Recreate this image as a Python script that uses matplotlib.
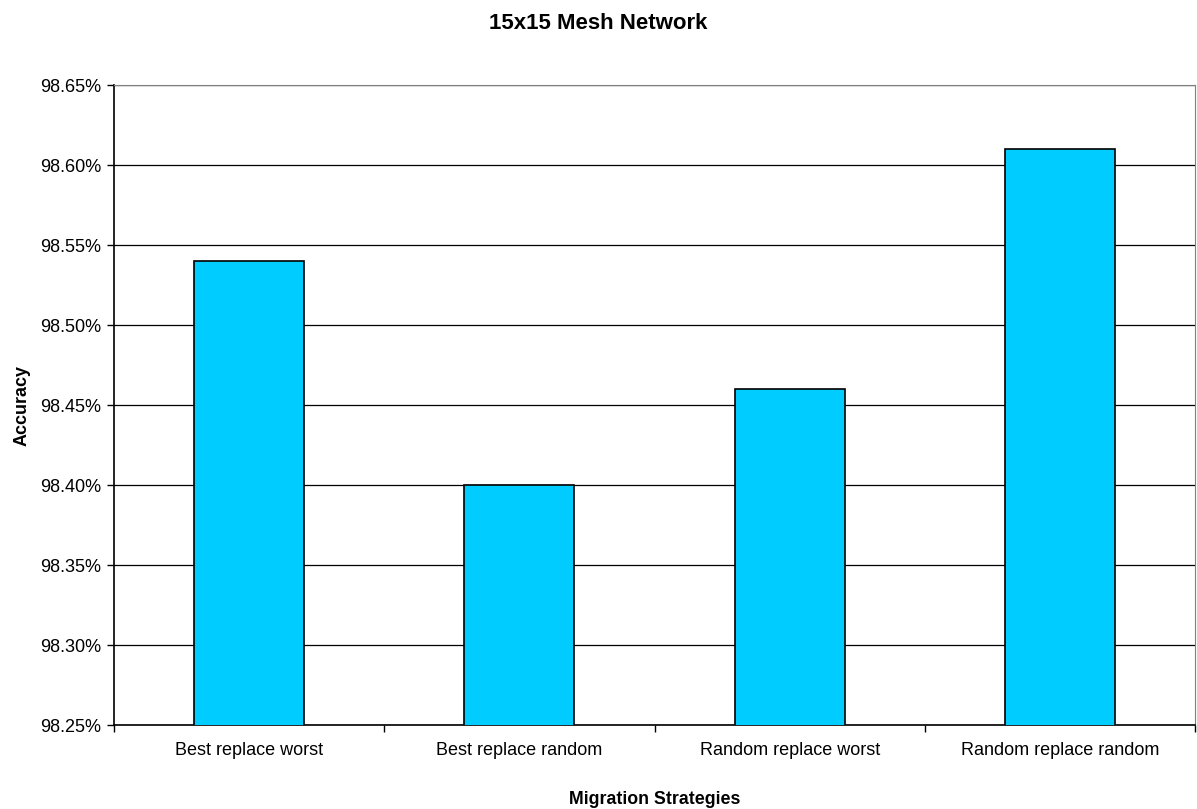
import numpy as np
import matplotlib.pyplot as plt
from matplotlib.ticker import FuncFormatter

plt.rcParams['font.family'] = ['Liberation Sans', 'DejaVu Sans']

# Accuracy per migration strategy (percent)
strategies = ['Best replace worst', 'Best replace random',
              'Random replace worst', 'Random replace random']
accuracy = [98.54, 98.40, 98.46, 98.61]

fig = plt.figure(figsize=(11.97, 8.09), dpi=100)
ax = fig.add_axes([114 / 1197, 84 / 809, 1081 / 1197, 640 / 809])

x = np.arange(len(strategies))
ax.bar(x, accuracy, width=0.407, bottom=0, color='#00CCFF',
       edgecolor='black', linewidth=1.2, zorder=3)

ax.set_ylim(98.25, 98.65)
ax.set_xlim(-0.5, len(strategies) - 0.5)
ax.set_yticks(np.arange(98.25, 98.651, 0.05))
ax.yaxis.set_major_formatter(FuncFormatter(lambda v, p: f'{v:.2f}%'))
ax.yaxis.grid(True, color='black', linewidth=0.9, zorder=0)

ax.set_xticks(x)
ax.set_xticklabels(strategies)
ax.set_xticks(np.arange(-0.5, len(strategies), 1), minor=True)
ax.tick_params(axis='x', which='major', length=0, pad=12, labelsize=13)
ax.tick_params(axis='x', which='minor', length=5, width=1)
ax.tick_params(axis='y', length=5, width=1, labelsize=13, pad=4)

for s in ['top', 'right']:
    ax.spines[s].set_color('#808080')
for s in ['left', 'bottom']:
    ax.spines[s].set_color('black')
    ax.spines[s].set_linewidth(1.2)

ax.set_xlabel('Migration Strategies', fontsize=12.8, fontweight='bold', labelpad=23)
ax.set_ylabel('Accuracy', fontsize=13, fontweight='bold', labelpad=7)
fig.suptitle('15x15 Mesh Network', x=0.5, y=0.984, fontsize=16, fontweight='bold')

plt.savefig('out.png', dpi=100)
